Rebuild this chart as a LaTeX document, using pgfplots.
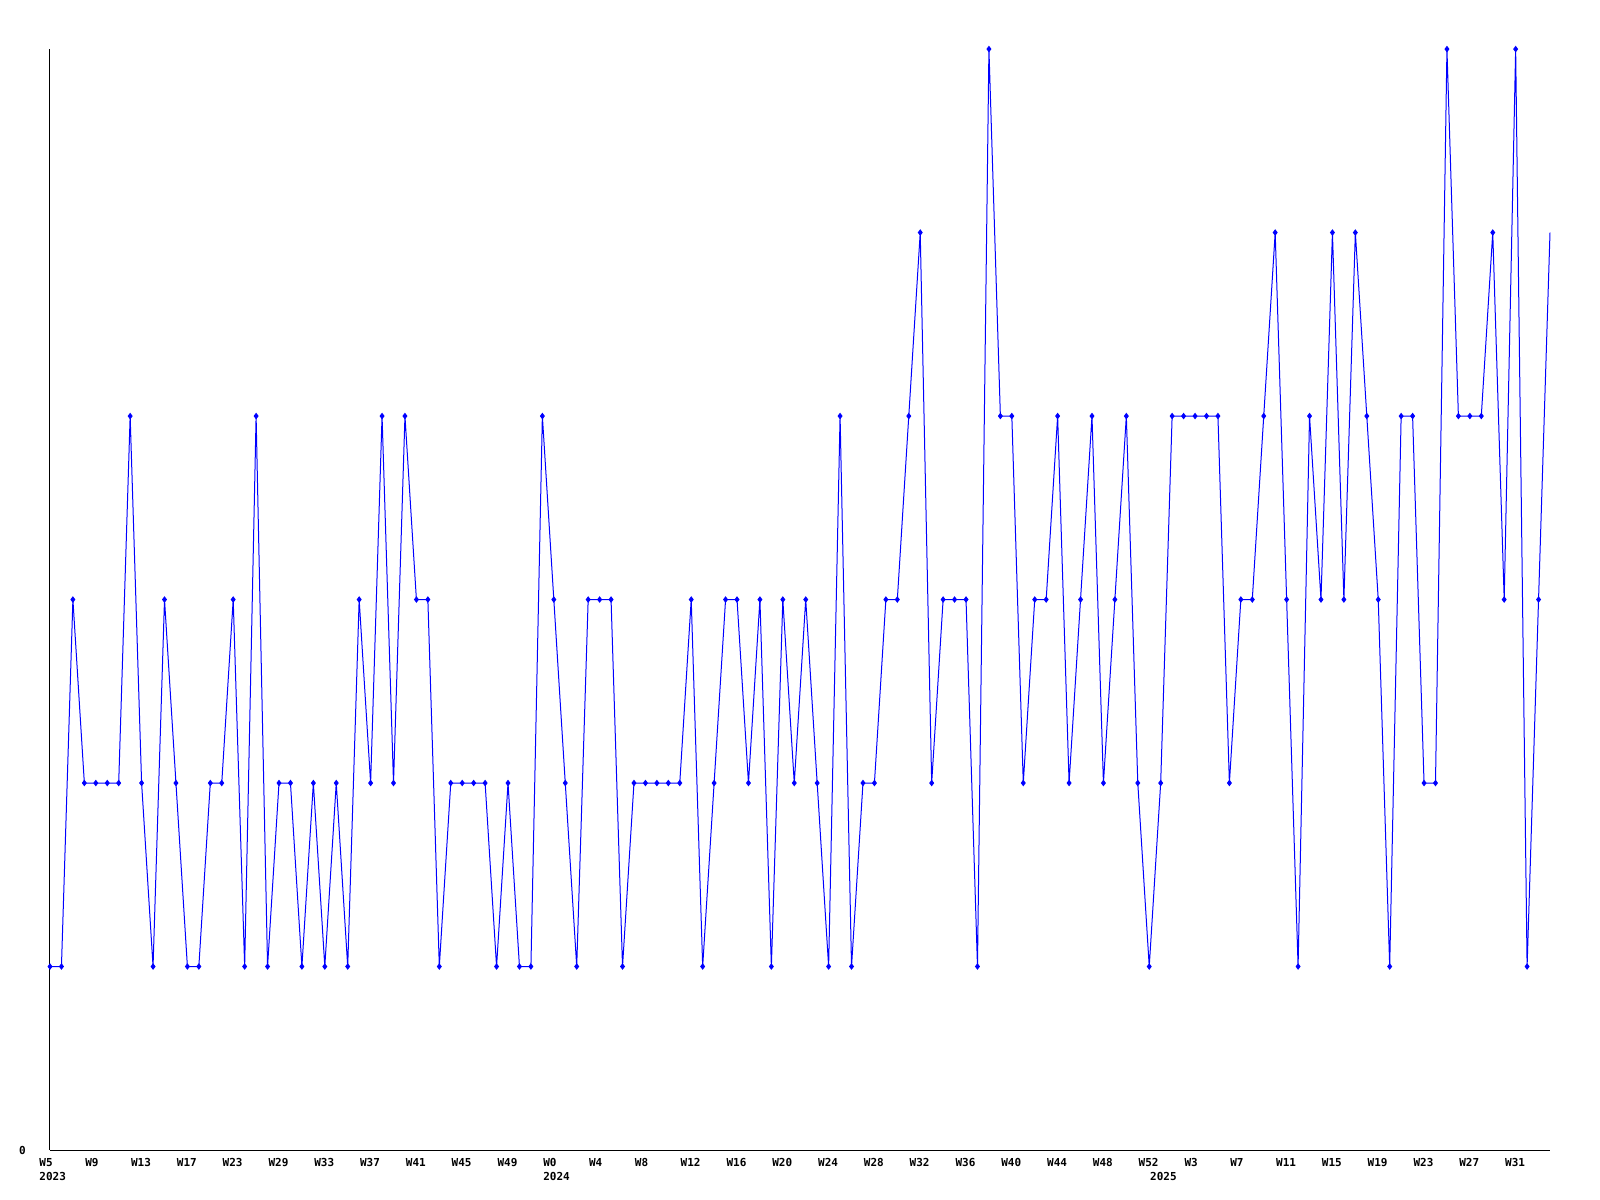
\documentclass[border=0pt]{standalone}
\usepackage{fontspec}
\setmonofont{DejaVu Sans Mono}
\usepackage{pgfplots}
\pgfplotsset{compat=1.18}
\usepackage{pgfplotstable}
\pgfplotstableread{
x y
0 1
1 1
2 3
3 2
4 2
5 2
6 2
7 4
8 2
9 1
10 3
11 2
12 1
13 1
14 2
15 2
16 3
17 1
18 4
19 1
20 2
21 2
22 1
23 2
24 1
25 2
26 1
27 3
28 2
29 4
30 2
31 4
32 3
33 3
34 1
35 2
36 2
37 2
38 2
39 1
40 2
41 1
42 1
43 4
44 3
45 2
46 1
47 3
48 3
49 3
50 1
51 2
52 2
53 2
54 2
55 2
56 3
57 1
58 2
59 3
60 3
61 2
62 3
63 1
64 3
65 2
66 3
67 2
68 1
69 4
70 1
71 2
72 2
73 3
74 3
75 4
76 5
77 2
78 3
79 3
80 3
81 1
82 6
83 4
84 4
85 2
86 3
87 3
88 4
89 2
90 3
91 4
92 2
93 3
94 4
95 2
96 1
97 2
98 4
99 4
100 4
101 4
102 4
103 2
104 3
105 3
106 4
107 5
108 3
109 1
110 4
111 3
112 5
113 3
114 5
115 4
116 3
117 1
118 4
119 4
120 2
121 2
122 6
123 4
124 4
125 4
126 5
127 3
128 6
129 1
130 3
131 5
}\datatable
\begin{document}
\begin{tikzpicture}
\path[use as bounding box] (0,0) rectangle (1600bp,1200bp);
\begin{axis}[
  scale only axis,
  width=1500bp, height=1101bp,
  at={(50bp,50bp)}, anchor=south west,
  xmin=0, xmax=131, ymin=0, ymax=6,
  axis x line=bottom, axis y line=left,
  axis line style={-, black, line width=1bp},
  clip=false,
  major tick length=0pt,
  tick style={draw=none},
  xtick={0,4,...,128},
  xticklabels={W5,W9,W13,W17,W23,W29,W33,W37,W41,W45,W49,W0,W4,W8,W12,W16,W20,W24,W28,W32,W36,W40,W44,W48,W52,W3,W7,W11,W15,W19,W23,W27,W31},
  extra x ticks={0,44,97},
  extra x tick labels={2023,2024,2025},
  extra x tick style={xticklabel style={yshift=-14bp}},
  xticklabel style={anchor=north west, inner sep=0pt, xshift=-10.7bp, yshift=-8bp, font=\ttfamily\bfseries\fontsize{11bp}{13bp}\selectfont},
  ytick={0}, yticklabels={0},
  yticklabel style={anchor=east, inner sep=0pt, xshift=-24bp, font=\ttfamily\bfseries\fontsize{11bp}{13bp}\selectfont},
]
\addplot[color={rgb,255:red,0;green,0;blue,255}, line width=1bp, mark=diamond*, mark size=2.5bp, mark indices={1,...,131}] table[x=x,y=y] {\datatable};
\end{axis}
\end{tikzpicture}
\end{document}
